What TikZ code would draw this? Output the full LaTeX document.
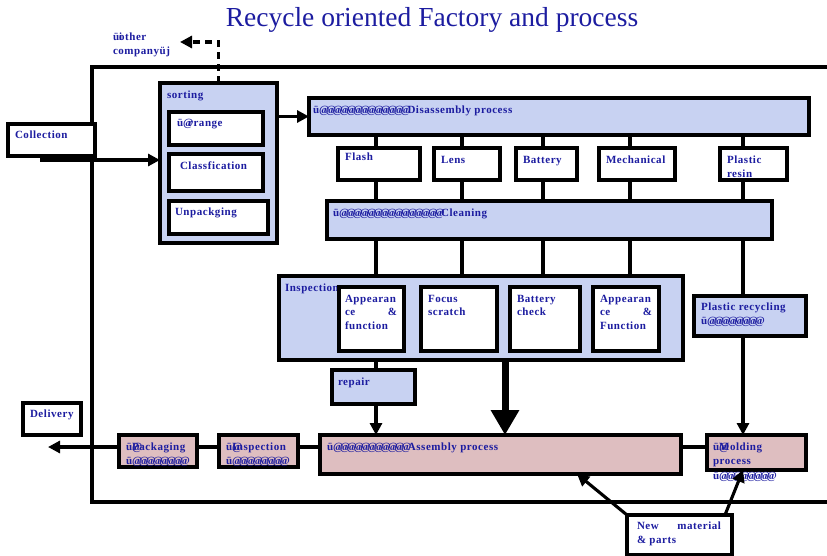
\documentclass[tikz,border=0pt]{standalone}
\usepackage{fontspec}
\setmainfont{Liberation Serif}
\newfontfamily\labfont[LetterSpace=5]{Liberation Serif}
\usetikzlibrary{arrows.meta,calc}

\definecolor{ink}{RGB}{28,28,160}
\definecolor{bluefill}{RGB}{200,210,242}
\definecolor{pinkfill}{RGB}{222,190,192}

% run of overprinted placeholder glyphs
\newcommand\garb[1]{\foreach \k in {1,...,#1}{\makebox[6.8pt][l]{@}}}

% \bx{name}{style}{x1}{y1}{x2}{y2}{text dx}{text dy}{text}
\newcommand\bx[9]{%
  \node[#2, anchor=north west, minimum width={(#5-#3)*1pt}, minimum height={(#6-#4)*1pt}] (#1) at (#3,#4) {};
  \node[txt] (#1-t) at ([xshift=#7pt,yshift=-#8pt]#1.north west) {#9};}

\tikzset{
  wbox/.style={draw=black, fill=white, line width=3.1pt, rectangle, inner sep=0pt, outer sep=0pt},
  bbox/.style={wbox, fill=bluefill},
  pbox/.style={wbox, fill=pinkfill},
  txt/.style={inner sep=0pt, outer sep=0pt, text=ink, anchor=north west, align=left,
    font=\labfont\fontsize{11}{13.5}\selectfont\bfseries},
  link/.style={line width=3.1pt},
  arr/.style={line width=3.1pt, -{Triangle[length=12pt,width=12pt]}},
}

\begin{document}
\begin{tikzpicture}[x=1pt,y=-1pt]
\useasboundingbox (0,0) rectangle (827,556);

% title
\node[font=\fontsize{27.5}{31}\selectfont, text=ink, inner sep=0pt] (title) at (432,20) {Recycle oriented Factory and process};

% factory outline
\draw[line width=3.1pt] (827,67) -- (92,67) -- (92,502) -- (827,502);

% column positions of the vertical links
\coordinate (c1) at (376,0);
\coordinate (c2) at (462,0);
\coordinate (c3) at (543,0);
\coordinate (c4) at (630,0);
\coordinate (c5) at (743,0);
\coordinate (c6) at (505,0);
\coordinate (c7) at (577,0);
\coordinate (row) at (0,447);

% receiving side
\bx{coll}{wbox}{8}{124}{95}{156}{7}{7}{Collection}
\bx{sort}{bbox}{160}{83}{277}{243}{7}{8}{sorting}
\bx{arng}{wbox}{169}{112}{263}{145}{8}{7}{ü\makebox[5pt][l]{@}rrange}
\bx{clsf}{wbox}{169}{154}{263}{191}{11}{8}{Classfication}
\bx{unpk}{wbox}{169}{201}{268}{234}{6}{7}{Unpackging}

\node[txt] (other-t) at (113,33) {ü\rlap{i}other\\companyüj};
\coordinate (oth) at (180,42);

% disassembly
\bx{dis}{bbox}{309}{98}{809}{135}{4}{8}{ü\garb{13}Disassembly process}
\bx{flash}{wbox}{338}{148}{420}{180}{7}{5}{Flash}
\bx{lens}{wbox}{434}{148}{500}{180}{7}{8}{Lens}
\bx{batt}{wbox}{516}{148}{577}{180}{7}{8}{Battery}
\bx{mech}{wbox}{599}{148}{675}{180}{7}{8}{Mechanical}
\bx{pres}{wbox}{720}{148}{787}{180}{7}{8}{Plastic\\resin}

% cleaning
\bx{clean}{bbox}{327}{201}{772}{239}{6}{8}{ü\garb{15}Cleaning}

% inspection
\bx{insp}{bbox}{279}{276}{683}{360}{6}{8}{Inspection}
\bx{apf}{wbox}{339}{287}{404}{351}{6}{8}{Appearan\\\makebox[52pt][s]{ce\hfill\&}\\function}
\bx{focus}{wbox}{421}{287}{497}{351}{7}{8}{Focus\\scratch}
\bx{bchk}{wbox}{510}{287}{580}{351}{7}{8}{Battery\\check}
\bx{apF}{wbox}{593}{287}{659}{351}{7}{8}{Appearan\\\makebox[52pt][s]{ce\hfill\&}\\Function}

\bx{rep}{bbox}{332}{370}{415}{404}{6}{8}{repair}
\bx{precy}{bbox}{694}{296}{806}{336}{7}{7}{Plastic recycling\\ü\garb{7}@}

% production line
\bx{asm}{pbox}{320}{435}{681}{474}{7}{8}{ü\garb{11}Assembly process}
\bx{mold}{pbox}{707}{435}{806}{470}{6}{8}{ü\rlap{@}Molding\\process\\[2pt]ü\garb{7}@}
\bx{insq}{pbox}{219}{435}{298}{467}{7}{8}{ü\rlap{@}Inspection\\ü\garb{7}@}
\bx{pack}{pbox}{119}{435}{197}{467}{7}{8}{ü\rlap{@}Packaging\\ü\garb{7}@}
\bx{dlv}{wbox}{23}{403}{81}{435}{7}{7}{Delivery}
\bx{newm}{wbox}{627}{515}{732}{555}{10}{7}{\makebox[84pt][s]{New\hfill material}\\\& parts}

\coordinate (dlvend) at (48,447);
\coordinate (collout) at ([shift={(32,4)}]coll.south west);

% links
\draw[arr] (collout) -- (sort.west |- collout);
\draw[arr] (sort.east |- dis.west) -- (dis.west);
\draw[link, dash pattern=on 7pt off 5pt, -{Triangle[length=12pt,width=12pt]}] (sort.north) |- (oth);

\foreach \c/\b in {c1/flash, c2/lens, c3/batt, c4/mech, c5/pres}{
  \draw[link] (dis.south -| \c) -- (\b.north -| \c);
  \draw[link] (\b.south -| \c) -- (clean.north -| \c);
}
\foreach \c in {c1,c2,c3,c4}{
  \draw[link] (clean.south -| \c) -- (insp.north -| \c);
}
\draw[link] (clean.south -| c5) -- (precy.north -| c5);

\draw[link] (insp.south -| c1) -- (rep.north -| c1);
\draw[arr] (rep.south -| c1) -- (asm.north -| c1);
\draw[line width=7pt, -{Triangle[length=25pt,width=27pt]}] (insp.south -| c6) -- (asm.north -| c6);
\draw[arr] (precy.south -| c5) -- (mold.north -| c5);

\draw[link] (asm.east |- row) -- (mold.west |- row);
\draw[link] (asm.west |- row) -- (insq.east |- row);
\draw[link] (insq.west |- row) -- (pack.east |- row);
\draw[arr] (pack.west |- row) -- (dlvend);

\draw[arr] (newm.north west) -- (asm.south -| c7);
\draw[arr] ([xshift=-7pt]newm.north east) -- (mold.south -| c5);
\end{tikzpicture}
\end{document}
